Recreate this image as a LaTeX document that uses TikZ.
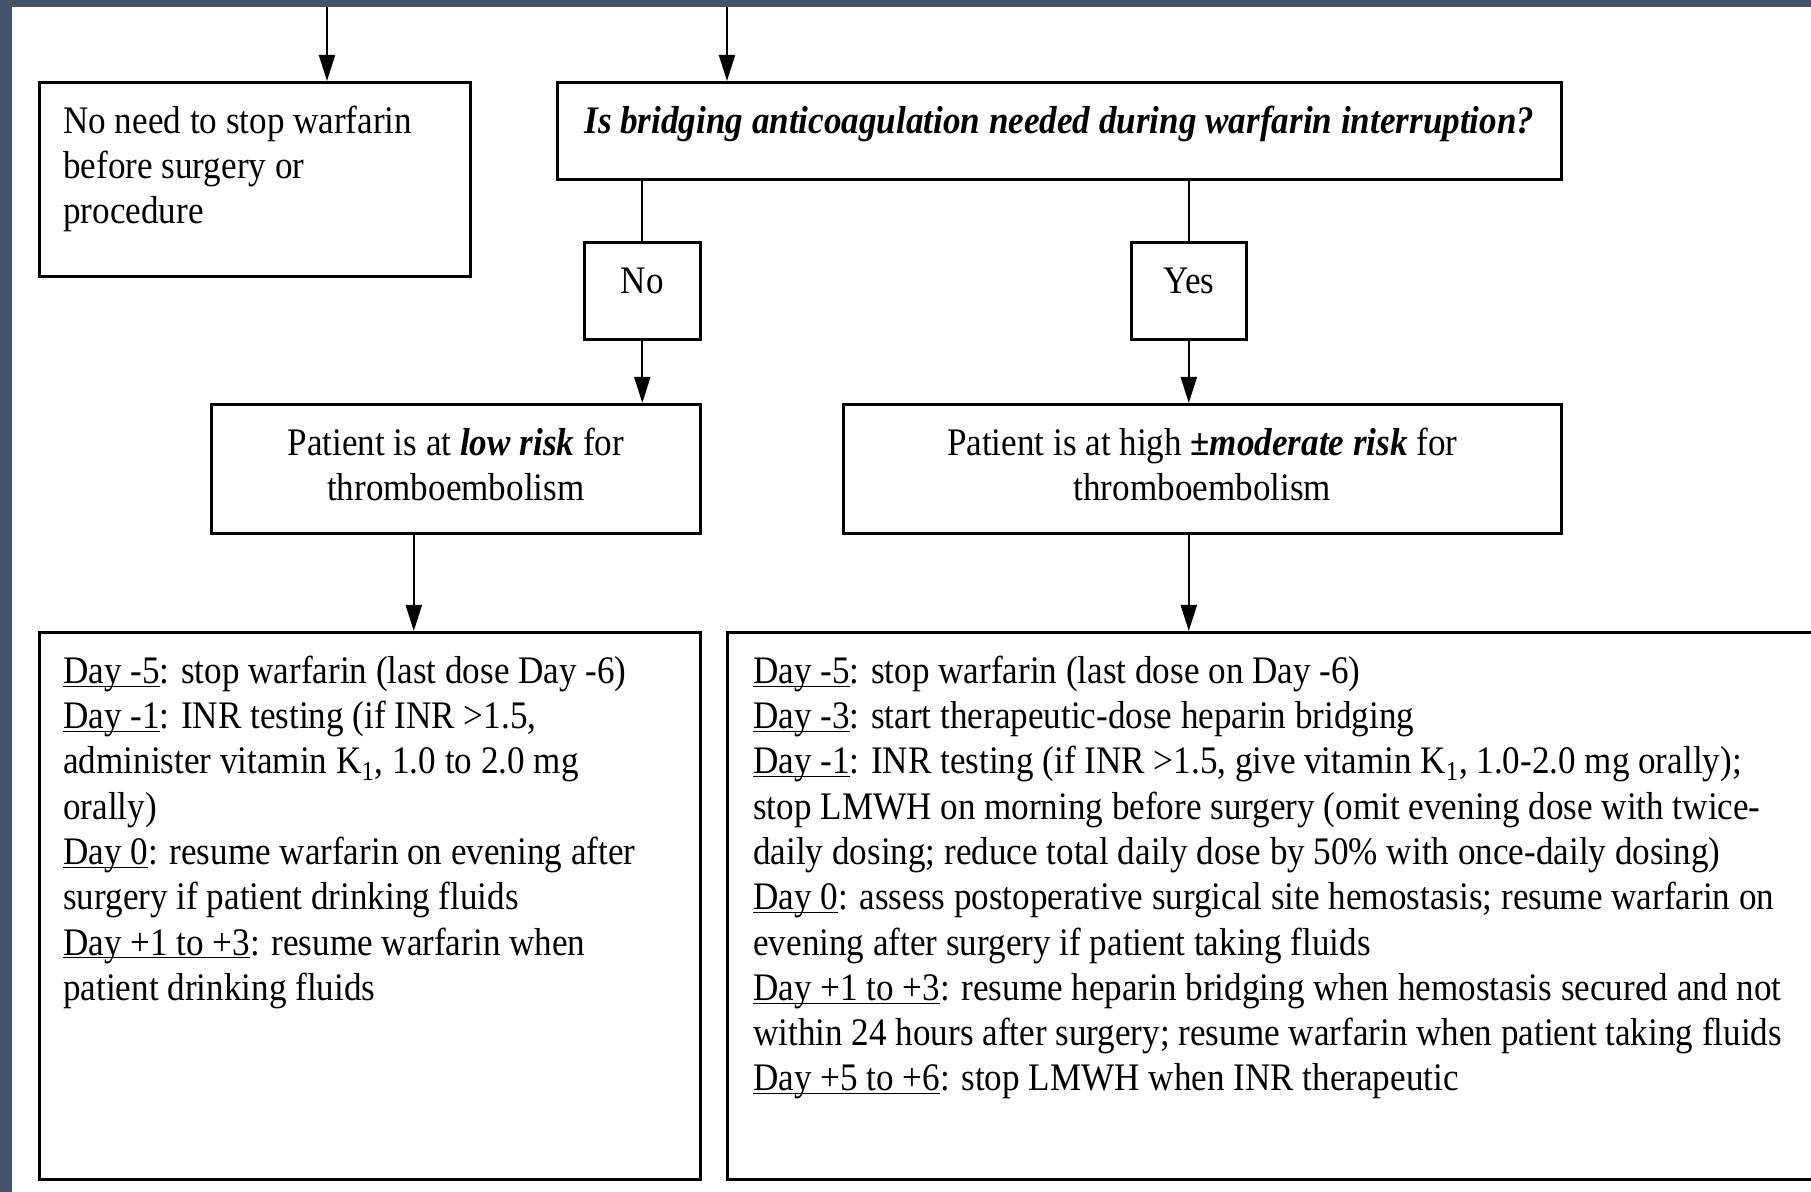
\documentclass[tikz,border=0pt]{standalone}
\usepackage{fontspec}
\setmainfont{Liberation Serif}[FakeStretch=0.9]
\usepackage{xcolor}
\usetikzlibrary{arrows.meta}
\definecolor{slateframe}{RGB}{67,83,106}
\tikzset{
  flowbox/.style={draw, line width=1.3pt, inner xsep=12pt, inner ysep=0pt, anchor=north west},
  flowcenter/.style={flowbox, inner xsep=0pt},
  flowarrow/.style={line width=1pt, -{Triangle[length=13pt,width=8pt]}},
  flowline/.style={line width=1pt}
}

\begin{document}
\begin{tikzpicture}[x=0.5pt,y=0.5pt,yscale=-1,xscale=1,every node/.style={font=\fontsize{19.5pt}{22.65pt}\selectfont}]
\useasboundingbox (0,0) rectangle (1811,1192);
\clip (0,0) rectangle (1811,1192);

%Shape: Frame
\fill [slateframe] (0,0) rectangle (12,1192);
\fill [slateframe] (0,0) rectangle (1811,7);

% Text Node
\draw (38,81) node [flowbox] (noneed) {\begin{minipage}[t][97pt][t]{191.5pt}\rule{0pt}{25.5pt}No need to stop warfarin\\
before surgery or\\
procedure
\end{minipage}};
% Text Node
\draw (556,81) node [flowcenter] (q) {\begin{minipage}[t][48.5pt][t]{502pt}\centering\rule{0pt}{25.5pt}\textbf{\textit{Is bridging anticoagulation needed during warfarin interruption?}}
\end{minipage}};
% Text Node
\draw (583,241) node [flowcenter] (no) {\begin{minipage}[t][48.5pt][t]{58pt}\centering\rule{0pt}{25.5pt}No
\end{minipage}};
% Text Node
\draw (1130,241) node [flowcenter] (yes) {\begin{minipage}[t][48.5pt][t]{57.5pt}\centering\rule{0pt}{25.5pt}Yes
\end{minipage}};
% Text Node
\draw (210,403) node [flowcenter] (low) {\begin{minipage}[t][64.5pt][t]{244.5pt}\centering\rule{0pt}{25.5pt}Patient is at \textbf{\textit{low risk}} for\\
thromboembolism
\end{minipage}};
% Text Node
\draw (842,403) node [flowcenter] (high) {\begin{minipage}[t][64.5pt][t]{359pt}\centering\rule{0pt}{25.5pt}Patient is at high \textbf{\textit{±moderate risk}} for\\
thromboembolism
\end{minipage}};
% Text Node
\draw (38,631) node [flowbox] (ldays) {\begin{minipage}[t][273.5pt][t]{306.5pt}\rule{0pt}{25.5pt}\underline{\smash{Day -5}}: stop warfarin (last dose Day -6)\\
\underline{\smash{Day -1}}: INR testing (if INR >1.5,\\
administer vitamin K\textsubscript{1}, 1.0 to 2.0 mg\\
orally)\\
\underline{\smash{Day 0}}: resume warfarin on evening after\\
surgery if patient drinking fluids\\
\underline{\smash{Day +1 to +3}}: resume warfarin when\\
patient drinking fluids
\end{minipage}};
% Text Node
\draw (726,631) node [flowbox, inner xsep=13pt] (rdays) {\begin{minipage}[t][273.5pt][t]{600pt}\rule{0pt}{25.5pt}\underline{\smash{Day -5}}: stop warfarin (last dose on Day -6)\\
\underline{\smash{Day -3}}: start therapeutic-dose heparin bridging\\
\underline{\smash{Day -1}}: INR testing (if INR >1.5, give vitamin K\textsubscript{1}, 1.0-2.0 mg orally);\\
stop LMWH on morning before surgery (omit evening dose with twice-\\
daily dosing; reduce total daily dose by 50\% with once-daily dosing)\\
\underline{\smash{Day 0}}: assess postoperative surgical site hemostasis; resume warfarin on\\
evening after surgery if patient taking fluids\\
\underline{\smash{Day +1 to +3}}: resume heparin bridging when hemostasis secured and not\\
within 24 hours after surgery; resume warfarin when patient taking fluids\\
\underline{\smash{Day +5 to +6}}: stop LMWH when INR therapeutic
\end{minipage}};

\coordinate (in1) at (327,7);
\coordinate (in2) at (727,7);
\coordinate (lowout) at ([xshift=-21pt]low.south);

%Straight Lines
\draw [flowarrow] (in1) -- (in1 |- noneed.north);
%Straight Lines
\draw [flowarrow] (in2) -- (in2 |- q.north);
%Straight Lines
\draw [flowline] (no.north |- q.south) -- (no.north);
%Straight Lines
\draw [flowline] (yes.north |- q.south) -- (yes.north);
%Straight Lines
\draw [flowarrow] (no.south) -- (no.south |- low.north);
%Straight Lines
\draw [flowarrow] (yes.south) -- (yes.south |- high.north);
%Straight Lines
\draw [flowarrow] (lowout) -- (lowout |- ldays.north);
%Straight Lines
\draw [flowarrow] (yes.south |- high.south) -- (yes.south |- rdays.north);

\end{tikzpicture}
\end{document}
